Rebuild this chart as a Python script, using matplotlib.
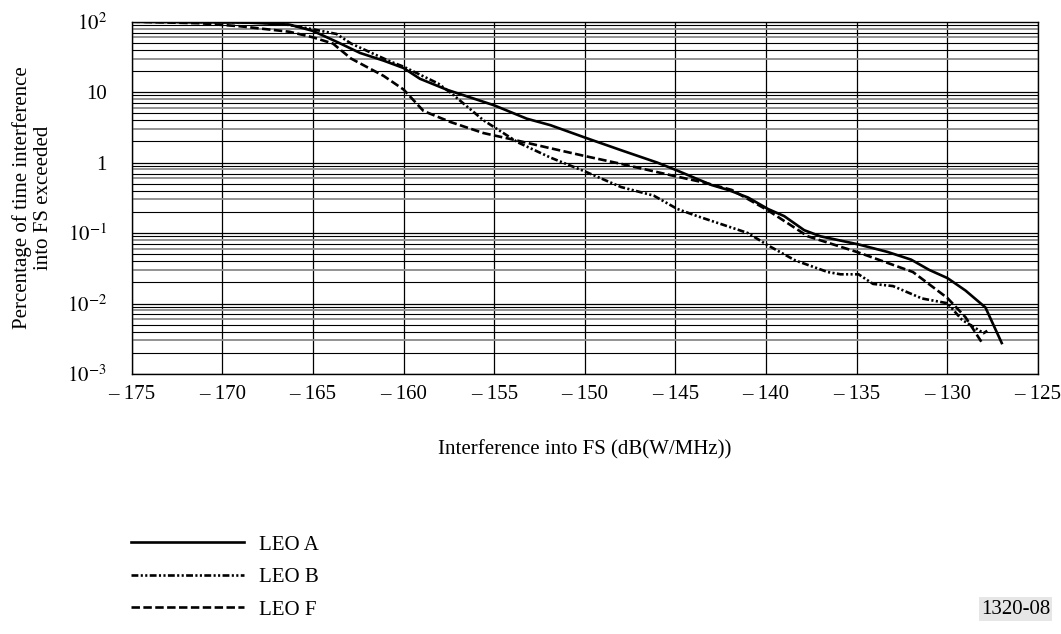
import numpy as np
import matplotlib
matplotlib.use("Agg")
import matplotlib.pyplot as plt
from matplotlib.ticker import FixedLocator, NullFormatter

plt.rcParams['font.family'] = ['Liberation Serif', 'DejaVu Serif']
plt.rcParams['mathtext.fontset'] = 'stix'

# LEO A (solid)
leo_a_x = [-175, -168.5, -166.3, -165.0, -163.7, -162.4, -161.1, -160.0, -159.1, -157.6,
           -155.0, -153.2, -151.9, -150.0, -148.0, -146.0, -145.0, -143.0, -142.1, -141.0,
           -139.9, -139.0, -137.9, -137.0, -134.9, -133.3, -132.0, -131.0, -130.0, -129.0,
           -127.9, -127.0]
leo_a_y = [100, 97, 91, 74, 52, 36, 28, 22, 15.5, 10.8,
           6.5, 4.2, 3.4, 2.27, 1.5, 1.0, 0.79, 0.48, 0.41, 0.32,
           0.22, 0.174, 0.11, 0.09, 0.069, 0.054, 0.042, 0.03, 0.023, 0.0153,
           0.0088, 0.00275]

# LEO B (dash-dot-dot)
leo_b_x = [-175, -168.0, -166.3, -165.0, -163.7, -162.9, -160.7, -160.0, -158.1, -157.4,
           -155.6, -153.7, -151.9, -150.0, -148.0, -146.2, -144.9, -143.8, -141.0, -139.9,
           -138.4, -136.6, -135.9, -134.9, -134.1, -133.0, -131.4, -130.0, -129.2, -128.0,
           -127.8]
leo_b_y = [100, 98, 90, 78, 67, 49, 27, 23, 13.3, 9.8,
           4.0, 1.94, 1.18, 0.75, 0.45, 0.34, 0.22, 0.174, 0.1, 0.067,
           0.041, 0.028, 0.026, 0.026, 0.019, 0.0177, 0.0118, 0.0101, 0.0059, 0.0038,
           0.0041]

# LEO F (dashed)
leo_f_x = [-175, -171.2, -169.0, -166.3, -165.0, -163.9, -162.9, -161.1, -160.0, -158.9,
           -157.4, -155.6, -154.1, -151.9, -150.0, -148.0, -145.0, -143.4, -141.9, -139.9,
           -137.7, -134.9, -131.9, -130.0, -129.0, -128.1]
leo_f_y = [100, 95, 86, 72, 60, 49, 30, 17, 10.9, 5.4,
           3.76, 2.63, 2.16, 1.6, 1.24, 0.96, 0.64, 0.52, 0.41, 0.21,
           0.09, 0.053, 0.028, 0.012, 0.0064, 0.0028]

x_ticks = [-175, -170, -165, -160, -155, -150, -145, -140, -135, -130, -125]
x_tick_labels = ['\u2013 175', '\u2013 170', '\u2013 165', '\u2013 160', '\u2013 155', '\u2013 150',
                 '\u2013 145', '\u2013 140', '\u2013 135', '\u2013 130', '\u2013 125']
y_ticks = [1e-3, 1e-2, 1e-1, 1, 10, 100]
y_tick_labels = ['$10^{-3}$', '$10^{-2}$', '$10^{-1}$', '1', '10', '$10^{2}$']

fig = plt.figure(figsize=(10.61, 6.34), dpi=100)
ax = fig.add_axes([131.7 / 1061, 1 - 374 / 634, (1038 - 131.7) / 1061, (374 - 21.7) / 634])
ax.set_yscale('log')
ax.set_xlim(-175, -125)
ax.set_ylim(1e-3, 100)

# grid: vertical every 5 dB, horizontal log minors (mixed black / grey as in the scan)
for xv in x_ticks:
    ax.axvline(xv, color='black', lw=0.9, zorder=1)
for dec in [1e-3, 1e-2, 1e-1, 1, 10]:
    for m in range(2, 10):
        col = '#8a8a8a' if m in (3, 6, 8) else 'black'
        lw = 1.3 if col != 'black' else 0.8
        ax.axhline(dec * m, color=col, lw=lw, zorder=1)
    ax.axhline(dec, color='black', lw=0.9, zorder=1)

lw = 1.9
ax.plot(leo_a_x, leo_a_y, color='black', lw=lw, ls='-', label='LEO A', zorder=3)
ax.plot(leo_b_x, leo_b_y, color='black', lw=lw, ls=(0, (2.6, 0.9, 0.8, 0.9, 0.8, 0.9)),
        label='LEO B', zorder=3)
ax.plot(leo_f_x, leo_f_y, color='black', lw=lw, ls=(0, (3.2, 1.3)), label='LEO F', zorder=3)

ax.xaxis.set_major_locator(FixedLocator(x_ticks))
ax.set_xticklabels(x_tick_labels)
ax.yaxis.set_major_locator(FixedLocator(y_ticks))
ax.set_yticklabels(y_tick_labels)
ax.yaxis.set_minor_formatter(NullFormatter())
ax.tick_params(axis='both', which='both', length=0, labelsize=15)
ax.tick_params(axis='x', pad=8)
ax.tick_params(axis='y', pad=18)
for sp in ax.spines.values():
    sp.set_linewidth(1.0)

ax.set_xlabel('Interference into FS (dB(W/MHz))', fontsize=15, labelpad=26)
ax.set_ylabel('Percentage of time interference\ninto FS exceeded', fontsize=15, labelpad=10,
              linespacing=1.1)

fig.legend(loc='upper left', bbox_to_anchor=(131 / 1061, 1 - 535 / 634), frameon=False,
           fontsize=15, handlelength=5.4, handletextpad=0.75, labelspacing=0.62,
           borderpad=0, borderaxespad=0)

fig.text(1050 / 1061, 1 - 609 / 634, '1320-08', fontsize=15, ha='right', va='center',
         bbox=dict(facecolor='#e6e6e6', edgecolor='none', pad=1.5))

fig.savefig('out.png', dpi=100)
